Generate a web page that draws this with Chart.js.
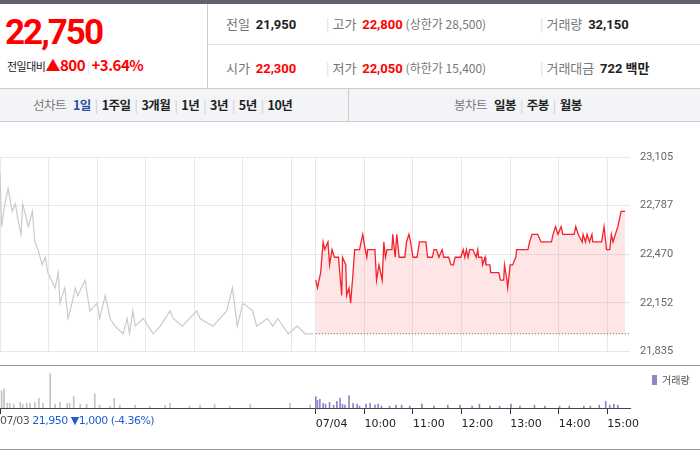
<!DOCTYPE html>
<html><head><meta charset="utf-8">
<script src="https://cdn.jsdelivr.net/npm/chart.js@4"></script>
<style>
body{margin:0;width:700px;height:450px;position:relative;font-family:"Noto Sans CJK KR","Noto Sans",sans-serif;background:#fff;overflow:hidden;color:#222}
.a{position:absolute;white-space:nowrap}
.b{font-weight:bold}
.r{color:#f00}
.g{color:#777}
.s{color:#ccc;margin:0 4px}
</style></head><body>
<div class="a" style="left:0;top:0;width:700px;height:4px;background:#5d626c"></div>
<div class="a" style="left:0;top:4px;width:207px;height:84px;border-right:1px solid #ccc"></div>
<div class="a" style="left:208px;top:44px;width:492px;height:1px;background:#e3e3e3"></div>
<div class="a" style="left:0;top:88px;width:700px;height:32px;background:#f3f4f7;border-top:1px solid #ccc;border-bottom:1px solid #ccc"></div>
<div class="a" style="left:348px;top:89px;width:1px;height:32px;background:#ccc"></div>
<div class="a b r" style="left:5px;top:12px;font-size:35px;letter-spacing:-2px;font-family:'Liberation Sans Narrow',Roboto,sans-serif">22,750</div>
<div class="a" style="left:7px;top:54px;font-size:11px;letter-spacing:-0.5px">전일대비<span class="r" style="font-size:15px;font-weight:bold">▲800</span> <span style="color:#ddd">|</span> <span class="r b" style="font-size:15px">+3.64%</span></div>
<div class="a" style="left:226px;top:14px;font-size:13px"><span class="g">전일</span>&nbsp; <b style="font-family:Roboto">21,950</b></div>
<div class="a" style="left:326px;top:14px;font-size:13px"><span style="color:#ddd">|</span> <span class="g">고가</span>&nbsp; <b class="r" style="font-family:Roboto">22,800</b> <span class="g" style="font-size:12px">(상한가 28,500)</span></div>
<div class="a" style="left:540px;top:14px;font-size:13px"><span style="color:#ddd">|</span> <span class="g">거래량</span>&nbsp; <b style="font-family:Roboto">32,150</b></div>
<div class="a" style="left:226px;top:58px;font-size:13px"><span class="g">시가</span>&nbsp; <b class="r" style="font-family:Roboto">22,300</b></div>
<div class="a" style="left:326px;top:58px;font-size:13px"><span style="color:#ddd">|</span> <span class="g">저가</span>&nbsp; <b class="r" style="font-family:Roboto">22,050</b> <span class="g" style="font-size:12px">(하한가 15,400)</span></div>
<div class="a" style="left:540px;top:58px;font-size:13px"><span style="color:#ddd">|</span> <span class="g">거래대금</span>&nbsp; <b style="font-family:Roboto">722</b> <b>백만</b></div>
<div class="a" style="left:33px;top:95px;font-size:12.5px;letter-spacing:-0.5px"><span class="g">선차트</span>&nbsp;&nbsp; <b style="color:#2a4fa8">1일</b><span class="s">|</span><b>1주일</b><span class="s">|</span><b>3개월</b><span class="s">|</span><b>1년</b><span class="s">|</span><b>3년</b><span class="s">|</span><b>5년</b><span class="s">|</span><b>10년</b></div>
<div class="a" style="left:454px;top:95px;font-size:12.5px;letter-spacing:-0.5px"><span class="g">봉차트</span>&nbsp;&nbsp; <b>일봉</b><span class="s">|</span><b>주봉</b><span class="s">|</span><b>월봉</b></div>
<div class="a" style="left:0;top:140px;width:700px;height:228px"><canvas id="p"></canvas></div>
<div class="a" style="left:0;top:365px;width:700px;height:1px;background:#999"></div>
<div class="a" style="left:0;top:360px;width:700px;height:90px"><canvas id="v"></canvas></div>
<div class="a" style="left:0;top:449px;width:700px;height:1px;background:#999"></div>
<div class="a" style="left:0;top:414px;font-size:11px;color:#555;font-family:'DejaVu Sans',sans-serif;letter-spacing:-0.5px">07/03 <span style="color:#1e5fd0">21,950 ▼1,000 (-4.36%)</span></div>
<div class="a" style="left:652px;top:372px;font-size:10px;color:#555"><span style="color:#9384c8">▌</span>거래량</div>
<script>
const prevMin=[0,2,6,10,15,19,22,26,28,35,40,43,47,52,56,59,68,72,74,80,84,89,93,96,105,111,120,123,130,136,142,152,157,160,164,167,177,189,198,210,214,225,243,247,263,280,287,293,300,312,317,330,337,343,356,367,377,387];
const prevPrice=[23000,22650,22800,22900,22750,22800,22700,22600,22800,22650,22750,22550,22500,22400,22450,22350,22250,22350,22150,22250,22050,22150,22250,22200,22300,22100,22150,22050,22200,22050,22000,21950,22050,21950,22100,22000,22050,21950,22000,22100,22050,22000,22100,22050,22000,22100,22250,22000,22150,22100,22000,22050,22000,22050,21950,22000,21950,21950];
const todayMin=[0,2,6,9,11,15,17,20,23,28,32,33,37,38,41,43,46,48,54,58,61,63,64,73,75,78,82,84,86,88,94,95,98,100,103,106,110,112,115,117,120,125,128,136,138,144,146,149,152,156,158,164,167,170,172,179,182,184,186,188,190,194,198,200,201,205,206,209,210,215,216,226,228,232,233,236,237,240,243,247,248,262,264,267,274,278,291,293,296,299,303,305,319,321,324,329,330,333,335,338,341,342,353,356,359,363,365,367,370,373,377,382];
const todayPrice=[22300,22250,22350,22550,22500,22550,22400,22500,22450,22450,22200,22450,22400,22200,22250,22150,22350,22500,22500,22600,22500,22450,22500,22500,22300,22400,22300,22550,22450,22500,22500,22600,22450,22600,22450,22450,22450,22550,22600,22550,22450,22450,22550,22550,22450,22450,22500,22500,22450,22500,22450,22450,22400,22400,22450,22450,22500,22450,22500,22450,22500,22500,22450,22500,22450,22450,22400,22450,22400,22400,22350,22350,22300,22300,22400,22300,22250,22400,22400,22450,22500,22500,22550,22600,22600,22550,22550,22600,22650,22600,22650,22600,22600,22650,22600,22550,22600,22550,22600,22550,22600,22550,22550,22650,22500,22500,22600,22550,22600,22650,22750,22750];
const prevClose=21950;
const yTicks=[21835,22152,22470,22787,23105];
const xLabels=['','07/04','10:00','11:00','12:00','13:00','14:00','15:00',''];
const prevVolMin=[2,5,9,12,17,25,28,33,37,43,48,53,62,68,74,83,86,91,99,107,117,123,136,141,148,167,185,204,210,234,247,265,284,309,358,383];
const prevVol=[1800,2000,500,500,400,600,400,500,500,600,1000,500,3600,400,600,500,500,1200,400,400,1500,300,200,1000,300,300,200,300,500,200,300,400,200,400,500,300];
const todayVolMin=[0,2,5,9,12,17,22,26,30,33,36,41,46,51,54,62,67,73,77,81,91,99,106,116,131,146,163,178,193,202,215,227,241,252,270,283,301,313,331,339,350,358,363,368,373];
const todayVol=[1200,800,900,500,400,600,300,700,1000,400,300,1300,500,400,200,400,500,300,400,200,200,300,300,200,400,200,300,300,200,400,200,200,400,200,300,200,200,200,200,200,300,700,300,400,300];
const OFF=390, XMAX=778;
const xy=(m,v,o)=>m.map((t,i)=>({x:t+o,y:v[i]}));
const hourTicks=[0,60,120,180,240,300,360,390,450,510,570,630,690,750];
const volTicks=[0,390,450,510,570,630,690,750,XMAX];
new Chart(document.getElementById('p'),{type:'line',
data:{datasets:[
{data:xy(prevMin,prevPrice,0),borderColor:'#c9cacf',borderWidth:1.2,pointRadius:0,tension:0},
{data:xy(todayMin,todayPrice,OFF),borderColor:'#f4222a',borderWidth:1.3,pointRadius:0,tension:0,fill:{value:prevClose},backgroundColor:'rgba(245,60,70,0.13)'},
{data:[{x:OFF,y:prevClose},{x:XMAX,y:prevClose}],borderColor:'#555',borderWidth:1,borderDash:[1,2],pointRadius:0}
]},
options:{animation:false,responsive:true,maintainAspectRatio:false,layout:{padding:{top:17,bottom:13,left:0,right:0}},
plugins:{legend:{display:false},tooltip:{enabled:false}},
scales:{
x:{type:'linear',min:0,max:XMAX,afterBuildTicks:a=>{a.ticks=hourTicks.map(v=>({value:v}))},ticks:{display:false},grid:{color:'#e8e8ec',drawTicks:false},border:{display:false}},
y:{position:'right',min:21835,max:23105,afterBuildTicks:a=>{a.ticks=yTicks.map(v=>({value:v}))},afterFit:a=>{a.width=70},
ticks:{padding:10,color:'#666',font:{size:11,family:'Roboto'},callback:v=>v.toLocaleString('en-US')},grid:{color:'#e8e8ec',drawTicks:false},border:{display:false}}
}}});
new Chart(document.getElementById('v'),{type:'bar',
data:{datasets:[
{data:xy(prevVolMin,prevVol,0),backgroundColor:'#c3c3c7',barThickness:1,grouped:false},
{data:xy(todayVolMin,todayVol,OFF),backgroundColor:'#9384c8',barThickness:1,grouped:false}
]},
options:{animation:false,responsive:true,maintainAspectRatio:false,layout:{padding:{top:6,right:0,left:0,bottom:0}},
plugins:{legend:{display:false},tooltip:{enabled:false}},
scales:{
x:{type:'linear',offset:false,min:0,max:XMAX,afterBuildTicks:a=>{a.ticks=volTicks.map(v=>({value:v}))},
ticks:{align:'start',color:'#222',font:{size:11,family:'DejaVu Sans'},padding:4,autoSkip:false,maxRotation:0,callback:(v,i)=>xLabels[i]},
grid:{offset:false,drawOnChartArea:false,tickLength:6,color:c=>c.index===volTicks.length-1?'rgba(0,0,0,0)':'#333'},border:{color:'#444'},afterFit:a=>{a.height=42;a.paddingLeft=0;a.paddingRight=0}},
y:{position:'right',min:0,max:4400,afterFit:a=>{a.width=70},ticks:{display:false},grid:{display:false},border:{display:false}}
}}});
</script></body></html>
